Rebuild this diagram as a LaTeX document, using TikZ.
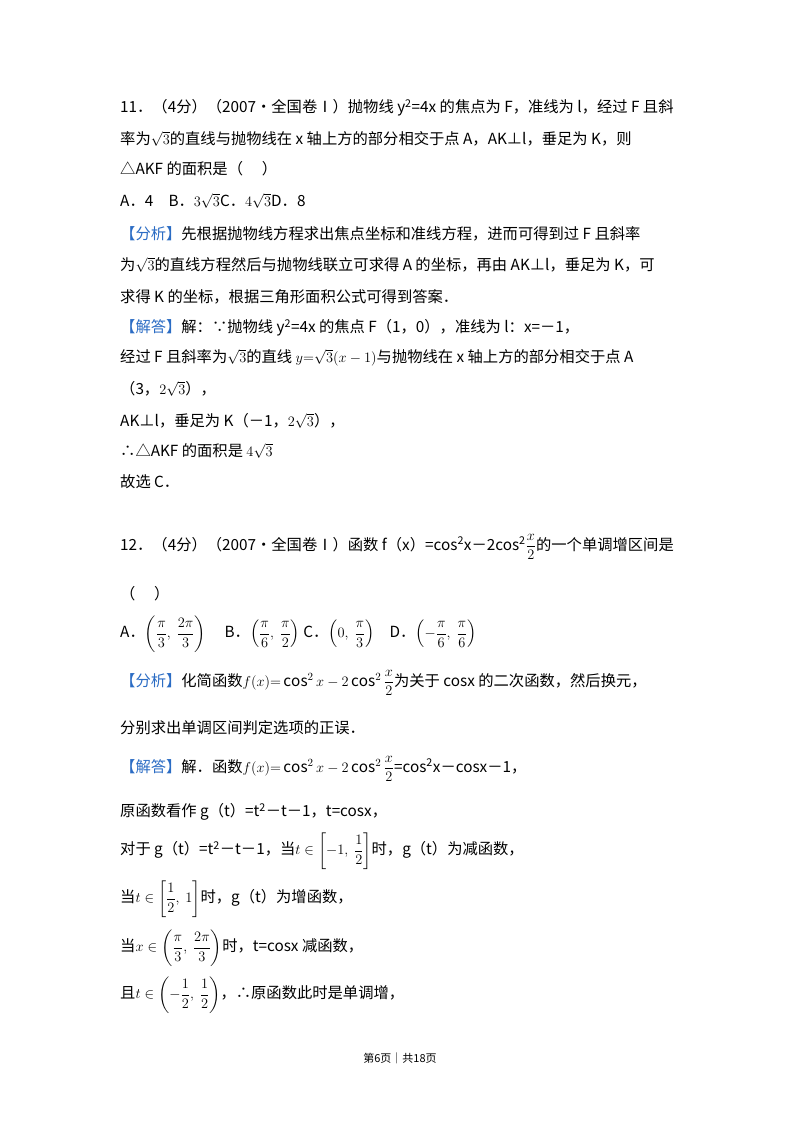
\documentclass[tikz,border=0pt]{standalone}
\usepackage{fontspec}
\setmainfont{Noto Sans CJK SC}
\usepackage{amsmath,amssymb}
\definecolor{hl}{HTML}{2B6CC4}
\begin{document}
\begin{tikzpicture}[x=1pt,y=-1pt,
  ln/.style={anchor=west,inner sep=0pt,font=\fontsize{15.3}{17}\selectfont},
  ft/.style={inner sep=0pt,font=\fontsize{11}{12}\selectfont}]
\fill[white] (0,0) rectangle (800,1132);
\useasboundingbox (0,0) rectangle (800,1132);
\def\hy{\textcolor{hl}}
\node[ln] (l1) at (120,108) {11．（4分）（2007•全国卷Ⅰ）抛物线 y\textsuperscript{2}=4x 的焦点为 F，准线为 l，经过 F 且斜};
\node[ln] (l2) at (120,139) {率为$\sqrt{3}$的直线与抛物线在 x 轴上方的部分相交于点 A，AK⊥l，垂足为 K，则};
\node[ln] (l3) at (120,169) {△AKF 的面积是（\quad\ ）};
\node[ln] (l4) at (120,201) {A．4\quad B．$3\sqrt{3}$C．$4\sqrt{3}$D．8};
\node[ln] (l5) at (120,234) {\hy{【分析】}先根据抛物线方程求出焦点坐标和准线方程，进而可得到过 F 且斜率};
\node[ln] (l6) at (120,265) {为$\sqrt{3}$的直线方程然后与抛物线联立可求得 A 的坐标，再由 AK⊥l，垂足为 K，可};
\node[ln] (l7) at (120,297) {求得 K 的坐标，根据三角形面积公式可得到答案．};
\node[ln] (l8) at (120,328) {\hy{【解答】}解：∵抛物线 y\textsuperscript{2}=4x 的焦点 F（1，0），准线为 l：x=－1，};
\node[ln] (l9) at (120,358) {经过 F 且斜率为$\sqrt{3}$的直线 $y{=}\sqrt{3}(x-1)$与抛物线在 x 轴上方的部分相交于点 A};
\node[ln] (l10) at (120,389) {（3，$2\sqrt{3}$），};
\node[ln] (l11) at (120,421) {AK⊥l，垂足为 K（－1，$2\sqrt{3}$），};
\node[ln] (l12) at (120,451) {∴△AKF 的面积是 $4\sqrt{3}$};
\node[ln] (l13) at (120,482) {故选 C．};
\node[ln] (m1) at (120,547) {12．（4分）（2007•全国卷Ⅰ）函数 f（x）=cos\textsuperscript{2}x－2cos\textsuperscript{2}$\dfrac{x}{2}$的一个单调增区间是};
\node[ln] (m2) at (120,594) {（\quad\ ）};
\node[ln] (m3) at (120,634) {A．$\left(\dfrac{\pi}{3},\ \dfrac{2\pi}{3}\right)$\quad\ B．$\left(\dfrac{\pi}{6},\ \dfrac{\pi}{2}\right)$ C．$\left(0,\ \dfrac{\pi}{3}\right)$\quad D．$\left(-\dfrac{\pi}{6},\ \dfrac{\pi}{6}\right)$};
\node[ln] (m4) at (120,683) {\hy{【分析】}化简函数$f(x){=}\cos^2x-2\cos^2\dfrac{x}{2}$为关于 cosx 的二次函数，然后换元，};
\node[ln] (m5) at (120,728) {分别求出单调区间判定选项的正误．};
\node[ln] (m6) at (120,769) {\hy{【解答】}解．函数$f(x){=}\cos^2x-2\cos^2\dfrac{x}{2}$=cos\textsuperscript{2}x－cosx－1，};
\node[ln] (m7) at (120,812) {原函数看作 g（t）=t\textsuperscript{2}－t－1，t=cosx，};
\node[ln] (m8) at (120,851) {对于 g（t）=t\textsuperscript{2}－t－1，当$t\in\left[-1,\ \dfrac{1}{2}\right]$时，g（t）为减函数，};
\node[ln] (m9) at (120,899) {当$t\in\left[\dfrac{1}{2},\ 1\right]$时，g（t）为增函数，};
\node[ln] (m10) at (120,948) {当$x\in\left(\dfrac{\pi}{3},\ \dfrac{2\pi}{3}\right)$时，t=cosx 减函数，};
\node[ln] (m11) at (120,995) {且$t\in\left(-\dfrac{1}{2},\ \dfrac{1}{2}\right)$，∴原函数此时是单调增，};
\node[ft] (f) at (400,1058) {第6页｜共18页};
\end{tikzpicture}
\end{document}
